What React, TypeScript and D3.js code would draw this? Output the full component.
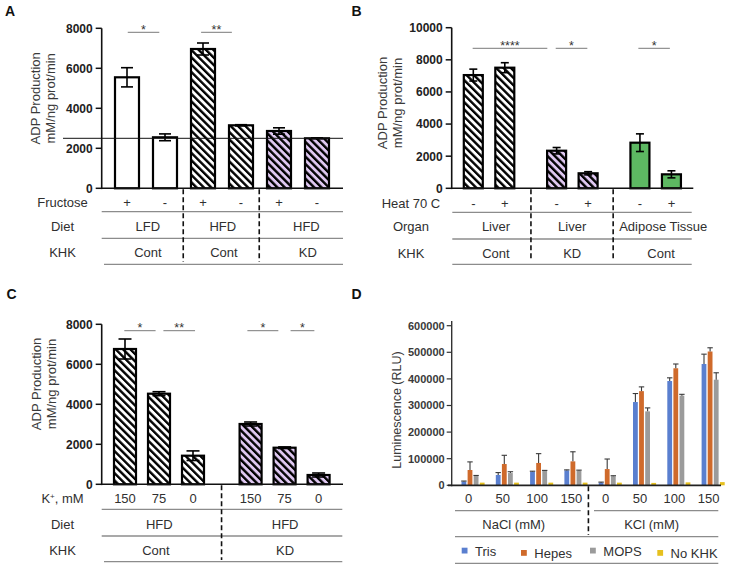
import React from "react";
import * as d3 from "d3";

const FONT = '"Liberation Sans", Arial, Helvetica, sans-serif';
const PURPLE = "#dfc8f1";
const GREEN = "#5db862";
const TABLE_TXT = "#303030";
const RULE = "#8c8c8c";

// ---------------- shared ----------------
const yLabelLines = ["ADP Production", "mM/ng prot/min"];

// ---------------- Panel A ----------------
const aRowLabels = ["Fructose", "Diet", "KHK"];
const aFructose = ["+", "-", "+", "-", "+", "-"];
const aValues = [5550, 2550, 6965, 3150, 2865, 2500];
const aErrors = [480, 170, 300, 30, 160, 20];
const aFills = ["plain", "plain", "hatchW", "hatchW", "hatchP", "hatchP"];
const aDiet = ["LFD", "HFD", "HFD"];
const aKhk = ["Cont", "Cont", "KD"];
const aTicks = [0, 2000, 4000, 6000, 8000];
const aRefLine = 2500;
const aSigLabels = ["*", "**"];

// ---------------- Panel B ----------------
const bRowLabels = ["Heat 70 C", "Organ", "KHK"];
const bHeat = ["-", "+", "-", "+", "-", "+"];
const bValues = [7050, 7510, 2340, 935, 2840, 870];
const bErrors = [370, 310, 200, 100, 550, 220];
const bFills = ["hatchW", "hatchW", "hatchP", "hatchP", "green", "green"];
const bOrgan = ["Liver", "Liver", "Adipose Tissue"];
const bKhk = ["Cont", "KD", "Cont"];
const bTicks = [0, 2000, 4000, 6000, 8000, 10000];
const bSigLabels = ["****", "*", "*"];

// ---------------- Panel C ----------------
const cRowLabels = ["K+, mM", "Diet", "KHK"];
const cPotassium = ["150", "75", "0", "150", "75", "0"];
const cValues = [6765, 4530, 1430, 3015, 1830, 465];
const cErrors = [500, 100, 240, 100, 40, 100];
const cFills = ["hatchW", "hatchW", "hatchW", "hatchP", "hatchP", "hatchP"];
const cDiet = ["HFD", "HFD"];
const cKhk = ["Cont", "KD"];
const cTicks = [0, 2000, 4000, 6000, 8000];
const cSigLabels = ["*", "**", "*", "*"];

// ---------------- Panel D ----------------
const dSalt = ["0", "50", "100", "150", "0", "50", "100", "150"];
const dSaltGroups = ["NaCl (mM)", "KCl (mM)"];
const dSeriesNames = ["Tris", "Hepes", "MOPS", "No KHK"];
const dSeriesColors = ["#5a7fcf", "#cf6a2b", "#9b9b9b", "#e6c01e"];
const dTris = [14000, 38800, 51000, 56000, 10000, 313000, 392000, 456000];
const dTrisErr = [2000, 9000, 2000, 2000, 2000, 32000, 12000, 37000];
const dHepes = [57500, 80000, 84000, 90000, 61000, 354000, 440000, 503000];
const dHepesErr = [30500, 32800, 35000, 36000, 37800, 16000, 16000, 14000];
const dMops = [35000, 46000, 54000, 55000, 34000, 278000, 337000, 397000];
const dMopsErr = [2000, 5000, 2000, 2000, 2000, 13000, 5000, 26000];
const dNoKhk = [10000, 10000, 10000, 10000, 10000, 9000, 11000, 12000];
const dNoKhkErr = [0, 0, 0, 0, 0, 0, 0, 0];
const dTicks = [0, 100000, 200000, 300000, 400000, 500000, 600000];

// ---------------- layouts ----------------
const aLayout = {
  letter: "A", letterX: 5, letterY: 15.5,
  axisX: 101.7, axisRight: 343, y0: 188.3, yTop: 28.3, yMax: 8000,
  slot0: 127, slotStep: 38, slots: [0, 1, 2, 3, 4, 5], barW: 24, capW: 12,
  sig: [[0.02, 0.85], [1.95, 2.76]], sigY: 32.3,
  ylab: { x1: 39.5, x2: 54.5, y: 98.3 },
  rowLabelX: 62.5, rowBase: [207.3, 230.7, 256.7], sepY: [211.7, 238.3, 264.3],
  tableLeft: 101.7, bottomLeft: 104, tableRight: 343,
  groupPos: [0.55, 2.52, 4.72], groupPos2: [0.55, 2.55, 4.76],
  dividers: [1.48, 3.48], dividerBottom: 261.7, refLeft: 63,
};
const bLayout = {
  letter: "B", letterX: 351.5, letterY: 15.5,
  axisX: 451.7, axisRight: 693.3, y0: 188.3, yTop: 27.7, yMax: 10000,
  slot0: 473.3, slotStep: 31.5, slots: [0, 1, 2.645, 3.645, 5.29, 6.29], barW: 19, capW: 8,
  sig: [[-0.02, 2.35], [2.616, 3.62], [5.24, 6.24]], sigY: 48.3,
  ylab: { x1: 386.7, x2: 401.5, y: 103 },
  rowLabelX: 411, rowBase: [208, 230.5, 258], sepY: [212.3, 239, 264.3],
  tableLeft: 452.3, bottomLeft: 452.3, tableRight: 691.7,
  groupPos: [0.72, 3.14, 6.03], groupPos2: [0.72, 3.14, 5.96],
  dividers: [1.83, 4.44], dividerBottom: 261, refLeft: 0,
};
const cLayout = {
  letter: "C", letterX: 6.5, letterY: 299,
  axisX: 101.7, axisRight: 343, y0: 484.3, yTop: 324.3, yMax: 8000,
  slot0: 125, slotStep: 34, slots: [0, 1, 2, 3.694, 4.694, 5.694], barW: 22, capW: 13,
  sig: [[-0.02, 0.9], [1.13, 2.06], [3.6, 4.51], [4.87, 5.57]], sigY: 330.7,
  ylab: { x1: 40.5, x2: 55.5, y: 384 },
  rowLabelX: 62.5, rowBase: [503, 529.3, 555], sepY: [509.3, 536, 561.7],
  tableLeft: 101.7, bottomLeft: 104, tableRight: 342.3,
  groupPos: [1.01, 4.71], groupPos2: [0.91, 4.71],
  dividers: [2.84], dividerBottom: 560, refLeft: 0,
};

function fillOf(f: string) {
  if (f === "plain") return "#ffffff";
  if (f === "green") return GREEN;
  return `url(#${f})`;
}

function RowLabel({ text, x, y }: { text: string; x: number; y: number }) {
  if (text.startsWith("K+")) {
    return (
      <text x={x} y={y} textAnchor="middle" fontSize={13} fill={TABLE_TXT}>
        K<tspan dy={-4.5} fontSize={8}>+</tspan>
        <tspan dy={4.5}>, mM</tspan>
      </text>
    );
  }
  return (
    <text x={x} y={y} textAnchor="middle" fontSize={13} fill={TABLE_TXT}>
      {text}
    </text>
  );
}

function BarPanel(props: any) {
  const { L, values, errors, fills, ticks, row1, row2, row3, rowLabels, sigLabels, refLine } = props;
  const y = d3.scaleLinear().domain([0, L.yMax]).range([L.y0, L.yTop]);
  const x = d3.scaleLinear().domain([0, 1]).range([L.slot0, L.slot0 + L.slotStep]);
  return (
    <g fontFamily={FONT}>
      <text x={L.letterX} y={L.letterY} fontWeight="bold" fontSize={14} fill="#111">
        {L.letter}
      </text>
      {yLabelLines.map((t: string, i: number) => (
        <text
          key={t}
          transform={`translate(${i === 0 ? L.ylab.x1 : L.ylab.x2},${L.ylab.y}) rotate(-90)`}
          textAnchor="middle"
          fontSize={13}
          fill="#3a3a3a"
        >
          {t}
        </text>
      ))}
      {ticks.map((t: number) => (
        <g key={t}>
          <line x1={L.axisX - 6} x2={L.axisX} y1={y(t)} y2={y(t)} stroke="#111" strokeWidth={1.5} />
          <text x={L.axisX - 9} y={y(t)} dy="0.36em" textAnchor="end" fontWeight="bold" fontSize={12} fill="#222">
            {t}
          </text>
        </g>
      ))}
      {values.map((v: number, i: number) => (
        <rect
          key={"b" + i}
          x={x(L.slots[i]) - L.barW / 2}
          y={y(v)}
          width={L.barW}
          height={L.y0 - y(v)}
          fill={fillOf(fills[i])}
          stroke="#000"
          strokeWidth={2.2}
        />
      ))}
      {values.map((v: number, i: number) => {
        const cx = x(L.slots[i]);
        const hi = y(v + errors[i]);
        const lo = y(v - errors[i]);
        return (
          <g key={"e" + i} stroke="#000" strokeWidth={1.6}>
            <line x1={cx} x2={cx} y1={hi} y2={lo} />
            <line x1={cx - L.capW / 2} x2={cx + L.capW / 2} y1={hi} y2={hi} />
            <line x1={cx - L.capW / 2} x2={cx + L.capW / 2} y1={lo} y2={lo} />
          </g>
        );
      })}
      <line x1={L.axisX} x2={L.axisX} y1={L.yTop} y2={L.y0 + 0.8} stroke="#111" strokeWidth={1.6} />
      <line x1={L.axisX} x2={L.axisRight} y1={L.y0} y2={L.y0} stroke="#111" strokeWidth={1.6} />
      {refLine !== undefined && (
        <line x1={L.refLeft} x2={L.axisRight} y1={y(refLine)} y2={y(refLine)} stroke="#111" strokeWidth={1} />
      )}
      {L.sig.map((s: number[], i: number) => (
        <g key={"s" + i}>
          <line x1={x(s[0])} x2={x(s[1])} y1={L.sigY} y2={L.sigY} stroke="#7a7a7a" strokeWidth={1} />
          <text x={(x(s[0]) + x(s[1])) / 2} y={L.sigY + 1.5} textAnchor="middle" fontSize={12.5} fill="#333">
            {sigLabels[i]}
          </text>
        </g>
      ))}
      {/* table */}
      {rowLabels.map((t: string, i: number) => (
        <RowLabel key={t} text={t} x={L.rowLabelX} y={L.rowBase[i]} />
      ))}
      {row1.map((t: string, i: number) => (
        <text key={"r1" + i} x={x(L.slots[i])} y={L.rowBase[0]} textAnchor="middle" fontSize={13} fill={TABLE_TXT}>
          {t}
        </text>
      ))}
      {row2.map((t: string, i: number) => (
        <text key={"r2" + i} x={x(L.groupPos[i])} y={L.rowBase[1]} textAnchor="middle" fontSize={13} fill={TABLE_TXT}>
          {t}
        </text>
      ))}
      {row3.map((t: string, i: number) => (
        <text key={"r3" + i} x={x(L.groupPos2[i])} y={L.rowBase[2]} textAnchor="middle" fontSize={13} fill={TABLE_TXT}>
          {t}
        </text>
      ))}
      <line x1={L.tableLeft} x2={L.tableRight} y1={L.sepY[0]} y2={L.sepY[0]} stroke={RULE} strokeWidth={1.3} />
      <line x1={L.tableLeft} x2={L.tableRight} y1={L.sepY[1]} y2={L.sepY[1]} stroke={RULE} strokeWidth={1.3} />
      <line x1={L.bottomLeft} x2={L.tableRight} y1={L.sepY[2]} y2={L.sepY[2]} stroke={RULE} strokeWidth={1.3} />
      {L.dividers.map((d: number, i: number) => (
        <line
          key={"d" + i}
          x1={x(d)}
          x2={x(d)}
          y1={L.y0 + 1}
          y2={L.dividerBottom}
          stroke="#111"
          strokeWidth={1.6}
          strokeDasharray="5 3"
        />
      ))}
    </g>
  );
}

function PanelD() {
  const y0 = 485.3;
  const y = d3.scaleLinear().domain([0, 600000]).range([y0, 325.7]);
  const g = d3.scaleLinear().domain([0, 7]).range([461.5, 701.6]);
  const axisX = 451.7;
  const barW = 4.8;
  const barStep = 6.1;
  const series = [
    { name: dSeriesNames[0], color: dSeriesColors[0], values: dTris, errs: dTrisErr },
    { name: dSeriesNames[1], color: dSeriesColors[1], values: dHepes, errs: dHepesErr },
    { name: dSeriesNames[2], color: dSeriesColors[2], values: dMops, errs: dMopsErr },
    { name: dSeriesNames[3], color: dSeriesColors[3], values: dNoKhk, errs: dNoKhkErr },
  ];
  const legendX = [461.7, 521, 590, 657.3];
  const legendDy = [0, 2.3, 0, 2.3];
  const divider = 3.7;
  return (
    <g fontFamily={FONT}>
      <text x={351.5} y={299} fontWeight="bold" fontSize={14} fill="#111">
        D
      </text>
      <text transform={`translate(400.7,410) rotate(-90)`} textAnchor="middle" fontSize={12.5} fill="#3a3a3a">
        Luminescence (RLU)
      </text>
      {dTicks.map((t) => (
        <g key={t}>
          <line x1={axisX - 5} x2={axisX} y1={y(t)} y2={y(t)} stroke="#333" strokeWidth={1.2} />
          <text x={axisX - 7} y={y(t)} dy="0.36em" textAnchor="end" fontWeight="bold" fontSize={11} fill="#3a3a3a">
            {t}
          </text>
        </g>
      ))}
      {series.map((s, k) =>
        s.values.map((v, i) => (
          <rect
            key={s.name + i}
            x={g(i) + k * barStep}
            y={y(v)}
            width={barW}
            height={y0 - y(v)}
            fill={s.color}
          />
        ))
      )}
      {series.map((s, k) =>
        s.values.map((v, i) => {
          if (s.errs[i] <= 0) return null;
          const cx = g(i) + k * barStep + barW / 2;
          const hi = y(v + s.errs[i]);
          return (
            <g key={"e" + s.name + i} stroke="#3a3a3a" strokeWidth={1.1}>
              <line x1={cx} x2={cx} y1={y(v)} y2={hi} />
              <line x1={cx - 2.7} x2={cx + 2.7} y1={hi} y2={hi} />
            </g>
          );
        })
      )}
      <line x1={axisX} x2={axisX} y1={321} y2={y0 + 1} stroke="#333" strokeWidth={1.4} />
      <line x1={448} x2={721} y1={y0} y2={y0} stroke="#222" strokeWidth={1.8} />
      {dSalt.map((t, i) => (
        <text key={"x" + i} x={g(i) + 7} y={503.3} textAnchor="middle" fontSize={13} fill={TABLE_TXT}>
          {t}
        </text>
      ))}
      <line x1={455} x2={580.7} y1={510.7} y2={510.7} stroke={RULE} strokeWidth={1.3} />
      <line x1={594} x2={718.3} y1={510.7} y2={510.7} stroke={RULE} strokeWidth={1.3} />
      {dSaltGroups.map((t, i) => (
        <text key={t} x={i === 0 ? (g(0) + g(3)) / 2 + 0.8 : (g(4) + g(7)) / 2 + 1.5} y={528.7} textAnchor="middle" fontSize={13} fill={TABLE_TXT}>
          {t}
        </text>
      ))}
      <line x1={455} x2={718.3} y1={536.7} y2={536.7} stroke={RULE} strokeWidth={1.3} />
      {series.map((s, k) => (
        <g key={"lg" + k}>
          <rect x={legendX[k]} y={547.7 + legendDy[k]} width={5.8} height={5.8} fill={s.color} />
          <text x={legendX[k] + 13.3} y={555.5 + legendDy[k]} fontSize={13} fill={TABLE_TXT}>
            {s.name}
          </text>
        </g>
      ))}
      <line x1={455} x2={718.3} y1={563.3} y2={563.3} stroke={RULE} strokeWidth={1.3} />
      <line
        x1={g(divider)}
        x2={g(divider)}
        y1={y0 + 1}
        y2={535}
        stroke="#111"
        strokeWidth={1.6}
        strokeDasharray="5 3"
      />
    </g>
  );
}

export default function App() {
  return (
    <svg
      width={736}
      height={566}
      viewBox="0 0 736 566"
      style={{ position: "absolute", left: 0, top: 0, background: "#fff" }}
    >
      <defs>
        <pattern id="hatchW" patternUnits="userSpaceOnUse" width={5.2} height={10} patternTransform="rotate(-45)">
          <rect width={5.2} height={10} fill="#ffffff" />
          <rect width={2.4} height={10} fill="#000" />
        </pattern>
        <pattern id="hatchP" patternUnits="userSpaceOnUse" width={5.2} height={10} patternTransform="rotate(-45)">
          <rect width={5.2} height={10} fill={PURPLE} />
          <rect width={2.4} height={10} fill="#000" />
        </pattern>
      </defs>
      <rect width={736} height={566} fill="#fff" />
      <BarPanel
        L={aLayout}
        values={aValues}
        errors={aErrors}
        fills={aFills}
        ticks={aTicks}
        row1={aFructose}
        row2={aDiet}
        row3={aKhk}
        rowLabels={aRowLabels}
        sigLabels={aSigLabels}
        refLine={aRefLine}
      />
      <BarPanel
        L={bLayout}
        values={bValues}
        errors={bErrors}
        fills={bFills}
        ticks={bTicks}
        row1={bHeat}
        row2={bOrgan}
        row3={bKhk}
        rowLabels={bRowLabels}
        sigLabels={bSigLabels}
      />
      <BarPanel
        L={cLayout}
        values={cValues}
        errors={cErrors}
        fills={cFills}
        ticks={cTicks}
        row1={cPotassium}
        row2={cDiet}
        row3={cKhk}
        rowLabels={cRowLabels}
        sigLabels={cSigLabels}
      />
      <PanelD />
    </svg>
  );
}
